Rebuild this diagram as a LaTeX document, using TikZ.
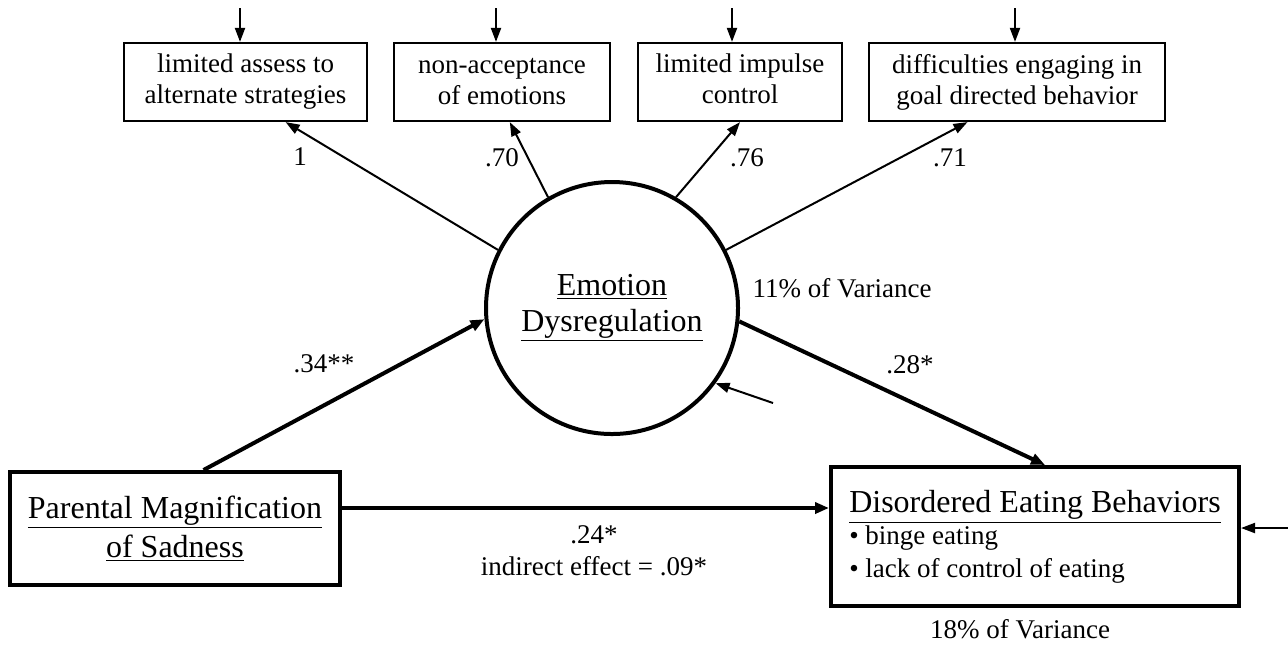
\documentclass[tikz,border=0pt]{standalone}
\usepackage{fontspec}
\setmainfont{Liberation Serif}
\usepackage{tikz}
\usetikzlibrary{arrows.meta,calc}

\begin{document}
\begin{tikzpicture}[x=0.5pt,y=-0.5pt,
  thinbox/.style={draw,line width=1.1pt,align=center,minimum height=39pt,inner sep=0pt,font=\fontsize{13.5}{15.5}\selectfont},
  thickbox/.style={draw,line width=2pt,inner sep=0pt},
  lbl/.style={font=\fontsize{13.5}{16}\selectfont,inner sep=0pt},
  load/.style={line width=1pt,-{Triangle[length=7pt,width=5pt]}},
  effect/.style={line width=2pt,-{Triangle[length=7pt,width=5.5pt]}},
  err/.style={line width=1pt,-{Triangle[length=7pt,width=5pt]}}]
\useasboundingbox (0,0) rectangle (1288,645);
\node[thinbox,minimum width=121.5pt] (b1) at (245.5,82) {limited assess to\\alternate strategies};
\node[thinbox,minimum width=108pt] (b2) at (502,82) {non-acceptance\\of emotions};
\node[thinbox,minimum width=102pt] (b3) at (740,82) {limited impulse\\control\vphantom{g}};
\node[thinbox,minimum width=148pt] (b4) at (1017,82) {difficulties engaging in\\goal directed behavior};
\node[circle,draw,line width=2pt,minimum size=126pt,inner sep=0pt,align=center,
  font=\fontsize{16}{18}\selectfont] (ed) at (612,308) {\underline{Emotion}\\\underline{Dysregulation}};
\node[thickbox,minimum width=165pt,minimum height=56.5pt,align=center,
  font=\fontsize{16}{19.5}\selectfont] (pm) at (175,528.5) {\underline{Parental Magnification}\\\underline{of Sadness}};
\node[thickbox,minimum width=204pt,minimum height=69.5pt,align=left,
  font=\fontsize{13.5}{16.25}\selectfont] (de) at (1035,536.5)
  {{\fontsize{16}{16}\selectfont\underline{Disordered Eating Behaviors}}\\\textbullet\ binge eating\\\textbullet\ lack of control of eating};
\draw[load] (ed.153) -- (b1.-45);
\draw[load] (ed.120) -- (b2.-79);
\draw[load] (ed.60) -- (b3.south);
\draw[load] (ed.27) -- (b4.-141);
\draw[effect] (pm.64) -- (ed.185);
\draw[effect] (ed.-6) -- (de.82);
\draw[effect] (pm.7) -- (pm.7 -| de.west);
\foreach \i/\x in {1/240,2/496,3/732,4/1015}{
  \coordinate (e\i) at (\x,8);
  \draw[err] (e\i) -- (e\i |- b\i.north);
}
\coordinate (e5) at (773,403);
\draw[err] (e5) -- (ed.-36);
\coordinate (e6) at (1288,528);
\draw[err] (e6) -- (e6 -| de.east);
\node[lbl] (l1) at (300,157) {1};
\node[lbl] (l2) at (502,158) {.70};
\node[lbl] (l3) at (747,158) {.76};
\node[lbl] (l4) at (950,158) {.71};
\node[lbl] (l5) at (324,364) {.34**};
\node[lbl] (l6) at (910,365) {.28*};
\node[lbl] (v1) at (842,288) {11\% of Variance};
\node[lbl,align=center] (l7) at (594,551) {.24*\\indirect effect = .09*};
\node[lbl] (v2) at (1020,629) {18\% of Variance};
\end{tikzpicture}
\end{document}
